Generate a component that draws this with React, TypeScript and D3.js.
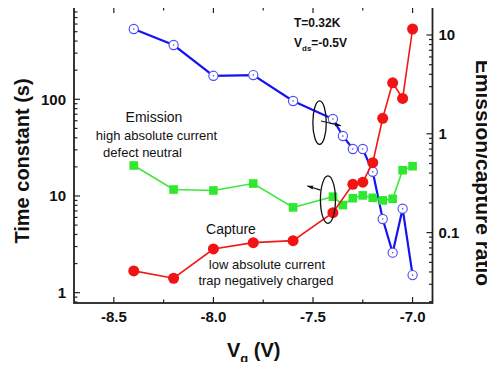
import React, { useEffect, useRef } from "react";
import * as d3 from "d3";

// gate voltage (V)
const vgEmission = [-8.4, -8.2, -8.0, -7.8, -7.6, -7.4, -7.35, -7.3, -7.25, -7.2, -7.15, -7.1, -7.05, -7.0];
const emission = [533, 364, 175, 178, 96, 62.5, 41.7, 30.6, 30.6, 17.8, 5.78, 2.59, 7.39, 1.52];

const vgCapture = [-8.4, -8.2, -8.0, -7.8, -7.6, -7.4, -7.3, -7.25, -7.2, -7.15, -7.1, -7.05, -7.0];
const capture = [1.68, 1.41, 2.83, 3.29, 3.45, 6.72, 13.2, 13.9, 22.1, 63.6, 148, 102, 533];

const vgRatio = [-8.4, -8.2, -8.0, -7.8, -7.6, -7.4, -7.35, -7.3, -7.25, -7.2, -7.15, -7.1, -7.05, -7.0];
const ratio = [0.478, 0.273, 0.267, 0.314, 0.18, 0.231, 0.19, 0.223, 0.238, 0.225, 0.212, 0.22, 0.428, 0.47];

const xTicks = [-8.5, -8.0, -7.5, -7.0];
const xMinor = [-8.25, -7.75, -7.25];
const leftTicks = [1, 10, 100];
const rightTicks = [0.1, 1, 10];

// annotation ellipses / arrows in data coords (left axis)
const ellipses = [
  { vg: -7.467, t: 57.3, rx: 6.7, ry: 21.7 },
  { vg: -7.425, t: 9.16, rx: 7.5, ry: 23.7 },
];
const arrows = [
  { x0: -7.46, y0: 59.7, x1: -7.36, y1: 53.3 },
  { x0: -7.462, y0: 11.5, x1: -7.528, y1: 12.7 },
];

const W = 495;
const H = 370;
const margin = { left: 74, right: 62.5, top: 7, bottom: 67 };
const FONT = "'Liberation Sans', Arial, Helvetica, sans-serif";

function App() {
  const ref = useRef(null);

  useEffect(() => {
    drawChart();
  }, []);

  const drawChart = () => {
    const svg = d3.select(ref.current);
    svg.selectAll("*").remove();

    const x = d3.scaleLinear().domain([-8.7, -6.9]).range([margin.left, W - margin.right]);
    const yL = d3.scaleLog().domain([0.782, 900]).range([H - margin.bottom, margin.top]);
    const yR = d3.scaleLog().domain([0.0194, 19.2]).range([H - margin.bottom, margin.top]);

    const x0 = margin.left;
    const x1 = W - margin.right;
    const y0 = H - margin.bottom;
    const y1 = margin.top;

    const minorOf = (dom) => {
      const out = [];
      for (let e = -3; e <= 3; e++) {
        for (let k = 2; k <= 9; k++) {
          const v = k * Math.pow(10, e);
          if (v > dom[0] && v < dom[1]) out.push(v);
        }
      }
      return out;
    };

    const axisCol = "#222";

    // ticks
    const ticks = svg.append("g").attr("stroke", axisCol).attr("stroke-width", 1.2);
    xTicks.forEach((v) => {
      ticks.append("line").attr("x1", x(v)).attr("x2", x(v)).attr("y1", y0).attr("y2", y0 - 6);
      ticks.append("line").attr("x1", x(v)).attr("x2", x(v)).attr("y1", y1).attr("y2", y1 + 6);
    });
    xMinor.forEach((v) => {
      ticks.append("line").attr("x1", x(v)).attr("x2", x(v)).attr("y1", y0).attr("y2", y0 - 3.5);
      ticks.append("line").attr("x1", x(v)).attr("x2", x(v)).attr("y1", y1).attr("y2", y1 + 3.5);
    });
    leftTicks.forEach((v) => {
      ticks.append("line").attr("x1", x0).attr("x2", x0 + 6).attr("y1", yL(v)).attr("y2", yL(v));
    });
    minorOf(yL.domain()).forEach((v) => {
      ticks.append("line").attr("x1", x0).attr("x2", x0 + 3.5).attr("y1", yL(v)).attr("y2", yL(v));
    });
    rightTicks.forEach((v) => {
      ticks.append("line").attr("x1", x1).attr("x2", x1 - 6).attr("y1", yR(v)).attr("y2", yR(v));
    });
    minorOf(yR.domain()).forEach((v) => {
      ticks.append("line").attr("x1", x1).attr("x2", x1 - 3.5).attr("y1", yR(v)).attr("y2", yR(v));
    });

    // frame
    svg
      .append("rect")
      .attr("x", x0)
      .attr("y", y1)
      .attr("width", x1 - x0)
      .attr("height", y0 - y1)
      .attr("fill", "none")
      .attr("stroke", axisCol)
      .attr("stroke-width", 1.8);

    // tick labels
    const lbl = svg
      .append("g")
      .attr("font-family", FONT)
      .attr("font-weight", "bold")
      .attr("font-size", 15)
      .attr("fill", "#111");
    xTicks.forEach((v) => {
      lbl.append("text").attr("x", x(v)).attr("y", 322).attr("text-anchor", "middle").text(v.toFixed(1));
    });
    leftTicks.forEach((v) => {
      lbl.append("text").attr("x", x0 - 8).attr("y", yL(v)).attr("dy", "0.36em").attr("text-anchor", "end").text(v);
    });
    rightTicks.forEach((v) => {
      lbl.append("text").attr("x", x1 + 6).attr("y", yR(v)).attr("dy", "0.36em").attr("text-anchor", "start").text(v);
    });

    // axis titles
    svg
      .append("text")
      .attr("transform", `translate(22,${(y0 + y1) / 2 + 6}) rotate(-90)`)
      .attr("text-anchor", "middle")
      .attr("dy", "0.35em")
      .attr("font-family", FONT)
      .attr("font-weight", "bold")
      .attr("font-size", 20)
      .attr("fill", "#111")
      .text("Time constant (s)");
    svg
      .append("text")
      .attr("transform", `translate(483,${(y0 + y1) / 2 + 18}) rotate(90)`)
      .attr("text-anchor", "middle")
      .attr("dy", "0.35em")
      .attr("font-family", FONT)
      .attr("font-weight", "bold")
      .attr("font-size", 21)
      .attr("fill", "#111")
      .text("Emission/capture ratio");
    const xt = svg
      .append("text")
      .attr("x", 227)
      .attr("y", 357)
      .attr("font-family", FONT)
      .attr("font-weight", "bold")
      .attr("font-size", 20)
      .attr("fill", "#111");
    xt.append("tspan").text("V");
    xt.append("tspan").attr("font-size", 13).attr("dy", 6).text("g");
    xt.append("tspan").attr("dy", -6).text(" (V)");

    // lines
    const lineL = d3
      .line()
      .x((d) => x(d[0]))
      .y((d) => yL(d[1]));
    const lineR = d3
      .line()
      .x((d) => x(d[0]))
      .y((d) => yR(d[1]));

    const emData = vgEmission.map((v, i) => [v, emission[i]]);
    const caData = vgCapture.map((v, i) => [v, capture[i]]);
    const raData = vgRatio.map((v, i) => [v, ratio[i]]);

    svg.append("path").attr("d", lineL(emData)).attr("fill", "none").attr("stroke", "#1414f0").attr("stroke-width", 2.2);
    svg
      .selectAll(".em")
      .data(emData)
      .enter()
      .append("circle")
      .attr("class", "em")
      .attr("cx", (d) => x(d[0]))
      .attr("cy", (d) => yL(d[1]))
      .attr("r", 4.6)
      .attr("fill", "#fff")
      .attr("stroke", "#4a4af5")
      .attr("stroke-width", 1.1);
    svg
      .selectAll(".emdot")
      .data(emData)
      .enter()
      .append("circle")
      .attr("class", "emdot")
      .attr("cx", (d) => x(d[0]))
      .attr("cy", (d) => yL(d[1]))
      .attr("r", 0.8)
      .attr("fill", "#4a4af5");

    svg.append("path").attr("d", lineR(raData)).attr("fill", "none").attr("stroke", "#3be83b").attr("stroke-width", 1.6);
    svg
      .selectAll(".ra")
      .data(raData)
      .enter()
      .append("rect")
      .attr("class", "ra")
      .attr("x", (d) => x(d[0]) - 4.3)
      .attr("y", (d) => yR(d[1]) - 4.3)
      .attr("width", 8.6)
      .attr("height", 8.6)
      .attr("fill", "#2ee82e");

    svg.append("path").attr("d", lineL(caData)).attr("fill", "none").attr("stroke", "#f01818").attr("stroke-width", 1.6);
    svg
      .selectAll(".ca")
      .data(caData)
      .enter()
      .append("circle")
      .attr("class", "ca")
      .attr("cx", (d) => x(d[0]))
      .attr("cy", (d) => yL(d[1]))
      .attr("r", 5.5)
      .attr("fill", "#f21414");

    // ellipses and arrows
    svg
      .selectAll(".ell")
      .data(ellipses)
      .enter()
      .append("ellipse")
      .attr("cx", (d) => x(d.vg))
      .attr("cy", (d) => yL(d.t))
      .attr("rx", (d) => d.rx)
      .attr("ry", (d) => d.ry)
      .attr("fill", "none")
      .attr("stroke", "#111")
      .attr("stroke-width", 1.3);

    svg
      .append("defs")
      .append("marker")
      .attr("id", "arr")
      .attr("viewBox", "0 0 10 10")
      .attr("refX", 9)
      .attr("refY", 5)
      .attr("markerWidth", 6)
      .attr("markerHeight", 6)
      .attr("orient", "auto")
      .append("path")
      .attr("d", "M0,2 L10,5 L0,8 Z")
      .attr("fill", "#111");
    arrows.forEach((a) => {
      svg
        .append("line")
        .attr("x1", x(a.x0))
        .attr("y1", yL(a.y0))
        .attr("x2", x(a.x1))
        .attr("y2", yL(a.y1))
        .attr("stroke", "#111")
        .attr("stroke-width", 1.1)
        .attr("marker-end", "url(#arr)");
    });

    // text annotations
    const ann = svg.append("g").attr("font-family", FONT).attr("fill", "#111");
    ann.append("text").attr("x", 294).attr("y", 27).attr("font-size", 12).attr("font-weight", "bold").text("T=0.32K");
    const vds = ann.append("text").attr("x", 294).attr("y", 46.5).attr("font-size", 12).attr("font-weight", "bold");
    vds.append("tspan").text("V");
    vds.append("tspan").attr("font-size", 8).attr("dy", 4).text("ds");
    vds.append("tspan").attr("dy", -4).text("=-0.5V");

    ann.append("text").attr("x", 154).attr("y", 122).attr("text-anchor", "middle").attr("font-size", 14).text("Emission");
    ann.append("text").attr("x", 156.5).attr("y", 140).attr("text-anchor", "middle").attr("font-size", 13).text("high absolute current");
    ann.append("text").attr("x", 142.5).attr("y", 156.5).attr("text-anchor", "middle").attr("font-size", 13).text("defect neutral");

    ann.append("text").attr("x", 231).attr("y", 233.5).attr("text-anchor", "middle").attr("font-size", 14).text("Capture");
    ann.append("text").attr("x", 267).attr("y", 268.5).attr("text-anchor", "middle").attr("font-size", 13).text("low absolute current");
    ann.append("text").attr("x", 266).attr("y", 284.5).attr("text-anchor", "middle").attr("font-size", 13).text("trap negatively charged");
  };

  return (
    <div style={{ width: W, height: H, margin: -8 }}>
      <svg ref={ref} width={W} height={H} style={{ display: "block", background: "#fff" }}></svg>
    </div>
  );
}

export default App;
